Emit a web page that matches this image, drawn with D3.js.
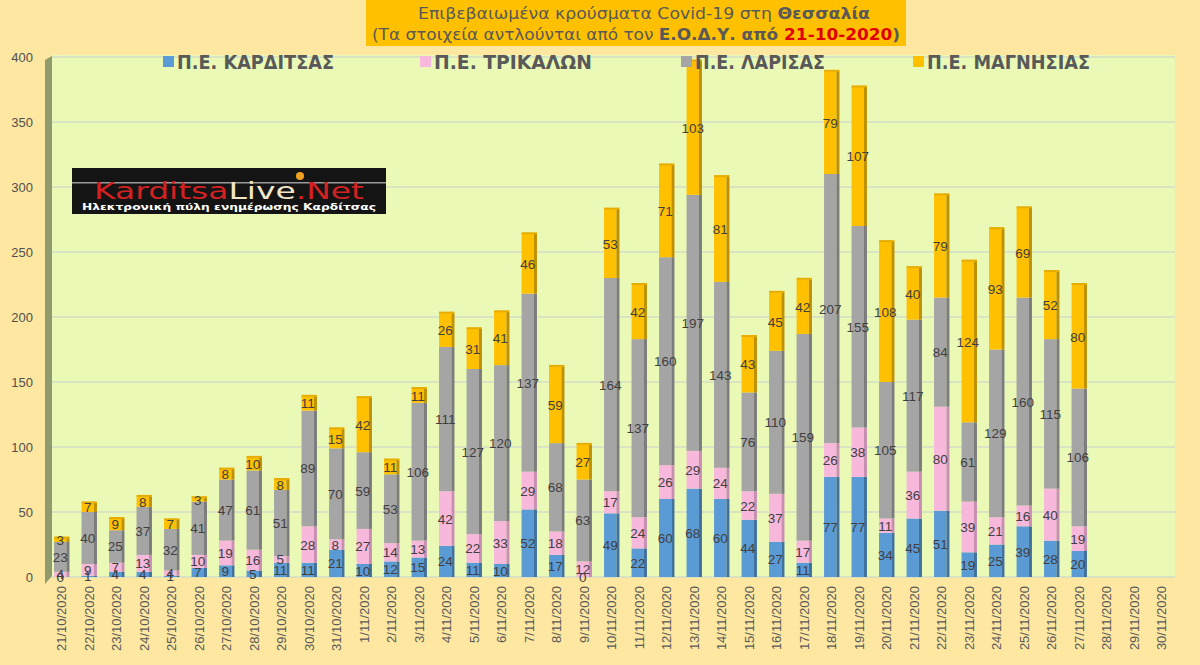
<!DOCTYPE html>
<html>
<head>
<meta charset="utf-8">
<script src="https://cdn.jsdelivr.net/npm/d3@7"></script>
<style>
  body { margin: 0; background: #fee7a0; }
  svg { display: block; }
</style>
</head>
<body>
<svg id="chart" width="1200" height="665"></svg>
<script>
// dates on the x axis (the last three have no data yet)
var dates = ["21/10/2020","22/10/2020","23/10/2020","24/10/2020","25/10/2020","26/10/2020","27/10/2020",
  "28/10/2020","29/10/2020","30/10/2020","31/10/2020","1/11/2020","2/11/2020","3/11/2020","4/11/2020",
  "5/11/2020","6/11/2020","7/11/2020","8/11/2020","9/11/2020","10/11/2020","11/11/2020","12/11/2020",
  "13/11/2020","14/11/2020","15/11/2020","16/11/2020","17/11/2020","18/11/2020","19/11/2020","20/11/2020",
  "21/11/2020","22/11/2020","23/11/2020","24/11/2020","25/11/2020","26/11/2020","27/11/2020",
  "28/11/2020","29/11/2020","30/11/2020"]

var karditsa = [0,1,4,4,1,7,9,5,11,11,21,10,12,15,24,11,10,52,17,0,49,22,60,68,60,44,27,11,77,77,34,45,51,19,25,39,28,20]
var trikala  = [4,9,7,13,4,10,19,16,5,28,8,27,14,13,42,22,33,29,18,12,17,24,26,29,24,22,37,17,26,38,11,36,80,39,21,16,40,19]
var larisa   = [23,40,25,37,32,41,47,61,51,89,70,59,53,106,111,127,120,137,68,63,164,137,160,197,143,76,110,159,207,155,105,117,84,61,129,160,115,106]
var magnisia = [3,7,9,8,7,3,8,10,8,11,15,42,11,11,26,31,41,46,59,27,53,42,71,103,81,43,45,42,79,107,108,40,79,124,93,69,52,80]

var seriesNames = ["Π.Ε. ΚΑΡΔΙΤΣΑΣ", "Π.Ε. ΤΡΙΚΑΛΩΝ", "Π.Ε. ΛΑΡΙΣΑΣ", "Π.Ε. ΜΑΓΝΗΣΙΑΣ"]
var yTicks = [0, 50, 100, 150, 200, 250, 300, 350, 400]

var colors = ["#5b9bd5", "#f7b8dc", "#a5a5a5", "#ffc000"]
var sideColors = ["#41719c", "#c98fb3", "#7c7c7c", "#bf9000"]
var legendX = [163, 420, 681, 913]
var legendW = [157, 158, 130, 163]

var svg = d3.select("#chart")

// build table for d3.stack
var table = []
for(var i=0; i<karditsa.length; i++)
{
    table.push({date: dates[i], k0: karditsa[i], k1: trikala[i], k2: larisa[i], k3: magnisia[i]})
}
var keys = ["k0", "k1", "k2", "k3"]
var stacked = d3.stack().keys(keys)(table)

var x = d3.scaleBand()
    .domain(dates)
    .range([48, 1175.5])
    .paddingInner(0.44)
    .paddingOuter(0.22)

var y = d3.scaleLinear()
    .domain([0, 400])
    .range([577, 57])

// plot background
svg.append("rect")
    .attr("x", 52).attr("y", 55)
    .attr("width", 1123).attr("height", 522)
    .attr("fill", "#ebf9b6")

// title box
svg.append("rect")
    .attr("x", 366).attr("y", 0)
    .attr("width", 540).attr("height", 46)
    .attr("fill", "#ffc000")

var t1 = svg.append("text")
    .attr("x", 644).attr("y", 19)
    .attr("text-anchor", "middle")
    .style("font-family", "DejaVu Sans")
    .style("font-size", "16px")
    .attr("fill", "#595959")
    .attr("textLength", 452)
    .attr("lengthAdjust", "spacingAndGlyphs")
t1.append("tspan").text("Επιβεβαιωμένα κρούσματα Covid-19 στη ")
t1.append("tspan").attr("font-weight", "bold").text("Θεσσαλία")

var t2 = svg.append("text")
    .attr("x", 636).attr("y", 40)
    .attr("text-anchor", "middle")
    .style("font-family", "DejaVu Sans")
    .style("font-size", "16px")
    .attr("fill", "#595959")
    .attr("textLength", 528)
    .attr("lengthAdjust", "spacingAndGlyphs")
t2.append("tspan").text("(Τα στοιχεία αντλούνται από τον ")
t2.append("tspan").attr("font-weight", "bold").text("Ε.Ο.Δ.Υ. από ")
t2.append("tspan").attr("font-weight", "bold").attr("fill", "#e00000").text("21-10-2020")
t2.append("tspan").attr("font-weight", "bold").text(")")

// left 3D wall
svg.append("polygon")
    .attr("points", "45,60 52,56 52,576 45,584")
    .attr("fill", "#8f9b6c")

// gridlines
svg.append("g")
    .selectAll("line")
    .data(yTicks)
    .enter()
        .append("line")
        .attr("x1", 52).attr("x2", 1175)
        .attr("y1", function(d){ return y(d) })
        .attr("y2", function(d){ return y(d) })
        .attr("stroke", "#d3dcc6")
        .attr("stroke-width", 1.3)

// y axis labels
var yAxis = d3.axisLeft(y).tickValues(yTicks).tickSize(0).tickPadding(0)
var yg = svg.append("g")
    .attr("transform", "translate(33,0)")
    .call(yAxis)
yg.select(".domain").remove()
yg.selectAll("text")
    .attr("fill", "#505050")
    .style("font-family", "Liberation Sans")
    .style("font-size", "13px")

// logo
var logo = svg.append("g").attr("transform", "translate(72,168)")
logo.append("rect").attr("width", 314).attr("height", 46).attr("fill", "#141414")
logo.append("rect").attr("y", 14).attr("width", 314).attr("height", 1.5).attr("fill", "#9a9a9a")
var lt = logo.append("text")
    .attr("x", 157).attr("y", 31)
    .attr("text-anchor", "middle")
    .style("font-family", "DejaVu Sans")
    .style("font-size", "23px")
    .attr("textLength", 270)
    .attr("lengthAdjust", "spacingAndGlyphs")
lt.append("tspan").attr("fill", "#d42121").text("Karditsa")
lt.append("tspan").attr("fill", "#f2e6c8").text("Live")
lt.append("tspan").attr("fill", "#d42121").text(".Net")
logo.append("circle").attr("cx", 228).attr("cy", 8).attr("r", 4).attr("fill", "#f0a020")
logo.append("text")
    .attr("x", 157).attr("y", 42)
    .attr("text-anchor", "middle")
    .style("font-family", "DejaVu Sans")
    .style("font-weight", "bold")
    .style("font-size", "9px")
    .attr("textLength", 294)
    .attr("lengthAdjust", "spacingAndGlyphs")
    .attr("fill", "#ffffff")
    .text("Ηλεκτρονική πύλη ενημέρωσης Καρδίτσας")

// bars
var depth = 3
var layers = svg.append("g")
    .selectAll("g")
    .data(stacked)
    .enter()
        .append("g")

layers.selectAll("rect.front")
    .data(function(d){ return d })
    .enter()
        .append("rect")
        .attr("class", "front")
        .attr("x", function(d){ return x(d.data.date) })
        .attr("y", function(d){ return y(d[1]) })
        .attr("width", x.bandwidth() - depth)
        .attr("height", function(d){ return y(d[0]) - y(d[1]) })
        .attr("fill", function(){ return colors[keys.indexOf(d3.select(this.parentNode).datum().key)] })

layers.selectAll("rect.side")
    .data(function(d){ return d })
    .enter()
        .append("rect")
        .attr("class", "side")
        .attr("x", function(d){ return x(d.data.date) + x.bandwidth() - depth })
        .attr("y", function(d){ return y(d[1]) })
        .attr("width", depth)
        .attr("height", function(d){ return y(d[0]) - y(d[1]) })
        .attr("fill", function(){ return sideColors[keys.indexOf(d3.select(this.parentNode).datum().key)] })

// top face on the topmost segment
svg.append("g")
    .selectAll("rect")
    .data(stacked[3])
    .enter()
        .append("rect")
        .attr("x", function(d){ return x(d.data.date) })
        .attr("y", function(d){ return y(d[1]) - 1.5 })
        .attr("width", x.bandwidth())
        .attr("height", 2)
        .attr("fill", "#e6ad00")

// data labels
var labelGroups = svg.append("g")
    .selectAll("g")
    .data(stacked)
    .enter()
        .append("g")

labelGroups.selectAll("text")
    .data(function(d){ return d })
    .enter()
        .append("text")
        .attr("x", function(d){ return x(d.data.date) + (x.bandwidth() - depth) / 2 })
        .attr("y", function(d){ return (y(d[0]) + y(d[1])) / 2 + 5 })
        .attr("text-anchor", "middle")
        .style("font-family", "Liberation Sans")
        .style("font-size", "13.5px")
        .attr("fill", "#404040")
        .text(function(d){ return d[1] - d[0] })

// x axis labels
var xAxis = d3.axisBottom(x).tickSize(0).tickPadding(0)
var xg = svg.append("g")
    .attr("transform", "translate(0,580)")
    .call(xAxis)
xg.select(".domain").remove()
xg.selectAll("text")
    .attr("transform", "rotate(-90)")
    .attr("x", -6)
    .attr("y", 0)
    .attr("dy", "0.35em")
    .attr("text-anchor", "end")
    .attr("fill", "#595959")
    .style("font-family", "Liberation Sans")
    .style("font-size", "13px")

// legend
var legend = svg.append("g")
    .selectAll("g")
    .data(seriesNames)
    .enter()
        .append("g")
        .attr("transform", function(d, i){ return "translate(" + legendX[i] + ",62)" })

legend.append("rect")
    .attr("x", 0).attr("y", -6)
    .attr("width", 11).attr("height", 11)
    .attr("fill", function(d, i){ return colors[i] })

legend.append("text")
    .attr("x", 14).attr("y", 7)
    .style("font-family", "DejaVu Sans Condensed")
    .style("font-weight", "bold")
    .style("font-size", "19px")
    .attr("fill", "#595959")
    .attr("textLength", function(d, i){ return legendW[i] })
    .attr("lengthAdjust", "spacingAndGlyphs")
    .text(function(d){ return d })
</script>
</body>
</html>
